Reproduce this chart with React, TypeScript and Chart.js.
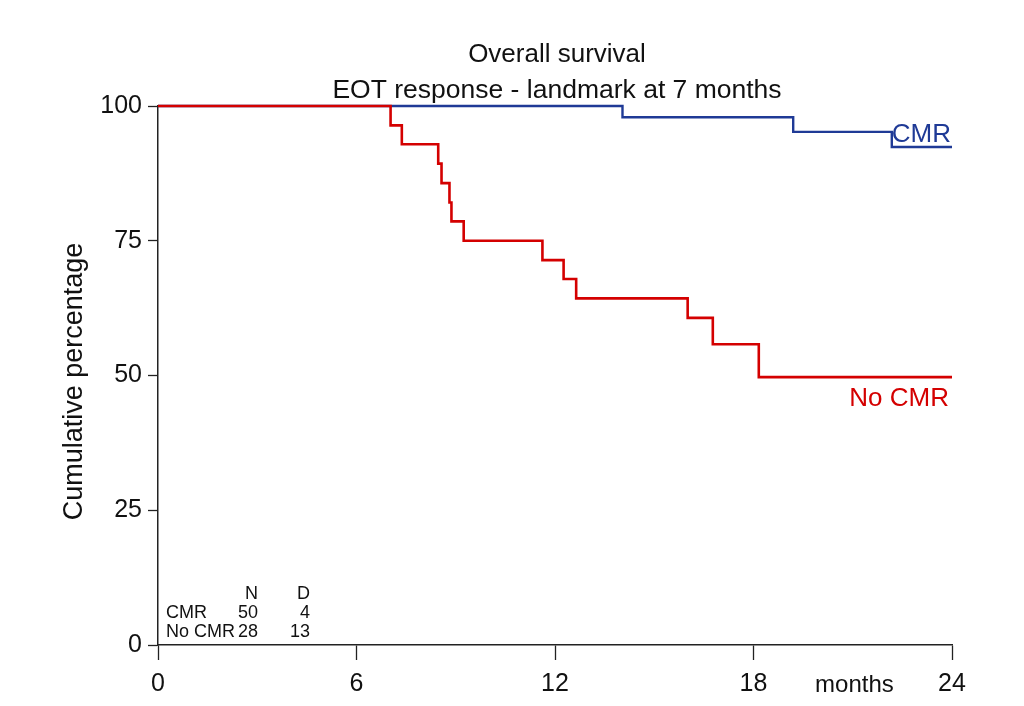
import React, { useEffect, useRef } from "react";
import { Chart, registerables } from "chart.js";

Chart.register(...registerables);

// ---- data ----
const noCmrTimes = [0, 7.03, 7.37, 8.47, 8.57, 8.81, 8.87, 9.24, 11.62, 12.26, 12.64, 16.01, 16.77, 18.16, 24];
const noCmrSurv = [100, 96.4, 92.9, 89.3, 85.7, 82.1, 78.6, 75.0, 71.4, 67.9, 64.3, 60.7, 55.8, 49.7, 49.7];
const cmrTimes = [0, 14.04, 19.2, 22.18, 24];
const cmrSurv = [100, 97.9, 95.2, 92.4, 92.4];

const xTicks = [0, 6, 12, 18, 24];
const yTicks = [0, 25, 50, 75, 100];

const titleLines = ["Overall survival", "EOT response - landmark at 7 months"];
const yTitle = "Cumulative percentage";
const xUnit = "months";

const tableHeaders = ["N", "D"];
const tableGroups = ["CMR", "No CMR"];
const tableN = [50, 28];
const tableD = [4, 13];

const RED = "#d40000";
const BLUE = "#1f3a96";
const FONT = "'Liberation Sans', Arial, sans-serif";

const annotations = {
  id: "kmAnnotations",
  afterDraw(chart: any) {
    const { ctx, chartArea, scales } = chart;
    const xs = scales.x;
    const ys = scales.y;
    ctx.save();
    ctx.fillStyle = "#111";
    // title
    ctx.textAlign = "center";
    ctx.textBaseline = "alphabetic";
    ctx.font = `26px ${FONT}`;
    const cx = (chartArea.left + chartArea.right) / 2 + 2;
    ctx.fillText(titleLines[0], cx, 62);
    ctx.font = `26.5px ${FONT}`;
    ctx.fillText(titleLines[1], cx, 98);

    // y title
    ctx.save();
    ctx.translate(82, (chartArea.top + chartArea.bottom) / 2 + 6);
    ctx.rotate(-Math.PI / 2);
    ctx.font = `27px ${FONT}`;
    ctx.textAlign = "center";
    ctx.textBaseline = "alphabetic";
    ctx.fillText(yTitle, 0, 0);
    ctx.restore();

    // months unit
    ctx.font = `24px ${FONT}`;
    ctx.textAlign = "center";
    ctx.fillText(xUnit, xs.getPixelForValue(21.05), 692);

    // curve labels
    ctx.font = `26px ${FONT}`;
    ctx.textAlign = "right";
    ctx.fillStyle = BLUE;
    ctx.fillText(tableGroups[0], xs.getPixelForValue(24) - 1, ys.getPixelForValue(93.4));
    ctx.fillStyle = RED;
    ctx.fillText(tableGroups[1], xs.getPixelForValue(24) - 3, ys.getPixelForValue(44.3));

    // N / D table
    ctx.fillStyle = "#111";
    ctx.font = `18px ${FONT}`;
    const nRight = 258;
    const dRight = 310;
    const rows = [599, 618, 637];
    ctx.textAlign = "right";
    ctx.fillText(tableHeaders[0], nRight, rows[0]);
    ctx.fillText(tableHeaders[1], dRight, rows[0]);
    tableGroups.forEach((g, i) => {
      ctx.textAlign = "left";
      ctx.fillText(g, 166, rows[i + 1]);
      ctx.textAlign = "right";
      ctx.fillText(String(tableN[i]), nRight, rows[i + 1]);
      ctx.fillText(String(tableD[i]), dRight, rows[i + 1]);
    });
    ctx.restore();
  },
};

export default function App() {
  const ref = useRef<HTMLCanvasElement | null>(null);
  useEffect(() => {
    document.body.style.margin = "0";
    if (!ref.current) return;
    const chart = new Chart(ref.current, {
      type: "line",
      data: {
        datasets: [
          {
            label: "No CMR",
            data: noCmrTimes.map((t, i) => ({ x: t, y: noCmrSurv[i] })),
            borderColor: RED,
            borderWidth: 2.6,
            stepped: true,
            pointRadius: 0,
            fill: false,
            clip: 6,
          },
          {
            label: "CMR",
            data: cmrTimes.map((t, i) => ({ x: t, y: cmrSurv[i] })),
            borderColor: BLUE,
            borderWidth: 2.4,
            stepped: true,
            pointRadius: 0,
            fill: false,
            clip: 6,
          },
        ],
      },
      options: {
        animation: false,
        responsive: false,
        devicePixelRatio: 1,
        layout: { padding: { left: 0, right: 72, top: 106, bottom: 0 } },
        plugins: { legend: { display: false }, tooltip: { enabled: false }, title: { display: false } },
        scales: {
          x: {
            type: "linear",
            min: 0,
            max: 24,
            afterFit: (s: any) => {
              s.height = 61;
            },
            afterBuildTicks: (s: any) => {
              s.ticks = xTicks.map((v) => ({ value: v }));
            },
            ticks: {
              color: "#111",
              font: { family: FONT, size: 25 },
              padding: 9,
              maxRotation: 0,
              autoSkip: false,
            },
            grid: {
              display: true,
              drawOnChartArea: false,
              drawTicks: true,
              tickLength: 15,
              tickColor: "#222",
              tickWidth: 1.3,
            },
            border: { display: true, color: "#222", width: 1.5 },
          },
          y: {
            type: "linear",
            min: 0,
            max: 100,
            afterFit: (s: any) => {
              s.width = 158;
            },
            afterBuildTicks: (s: any) => {
              s.ticks = yTicks.map((v) => ({ value: v }));
            },
            ticks: {
              color: "#111",
              font: { family: FONT, size: 25 },
              padding: 6,
              autoSkip: false,
            },
            grid: {
              display: true,
              drawOnChartArea: false,
              drawTicks: true,
              tickLength: 10,
              tickColor: "#222",
              tickWidth: 1.3,
            },
            border: { display: true, color: "#222", width: 1.5 },
          },
        },
      },
      plugins: [annotations],
    });
    return () => chart.destroy();
  }, []);
  return (
    <div style={{ position: "absolute", left: 0, top: 0, width: 1024, height: 706, background: "#fff" }}>
      <canvas ref={ref} width={1024} height={706} />
    </div>
  );
}
